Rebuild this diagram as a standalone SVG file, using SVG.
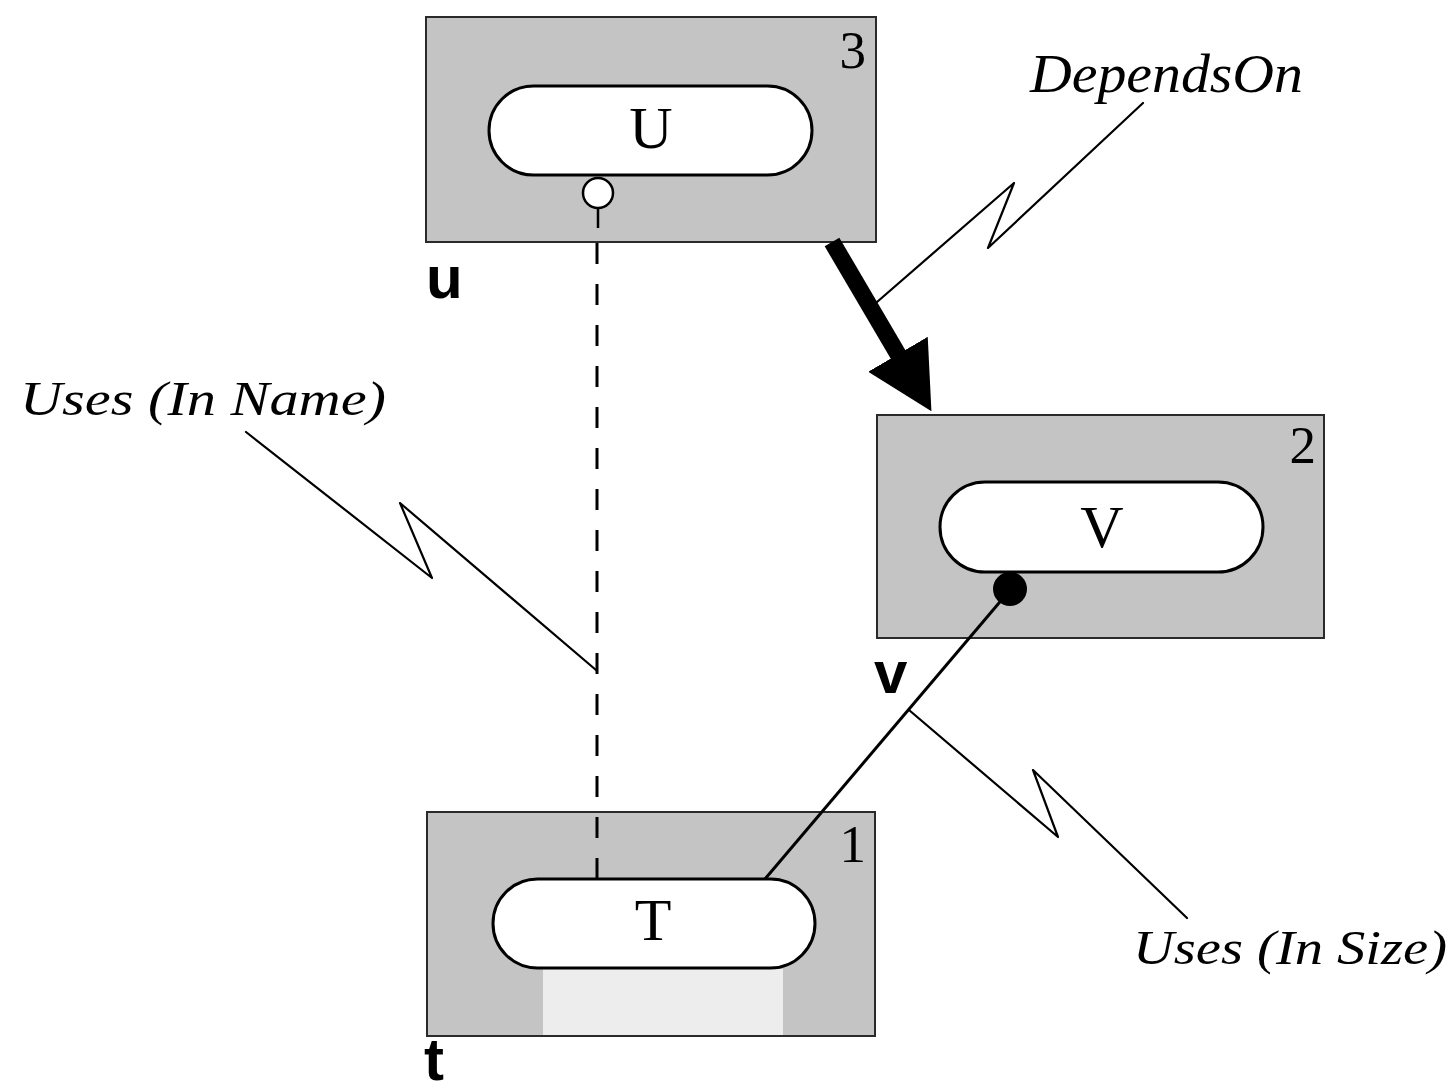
<svg xmlns="http://www.w3.org/2000/svg" width="1456" height="1091" viewBox="0 0 1456 1091">
  <style>
    .box { fill: #c4c4c4; stroke: #2a2a2a; stroke-width: 2; }
    .pill { fill: #ffffff; stroke: #000000; stroke-width: 3; }
    .pilltxt { font-family: "Liberation Serif", "Times New Roman", serif; font-size: 60px; fill: #000; text-anchor: middle; }
    .num { font-family: "Liberation Serif", "Times New Roman", serif; font-size: 53px; fill: #000; text-anchor: end; }
    .var { font-family: "Liberation Sans", Arial, sans-serif; font-weight: bold; font-size: 60px; fill: #000; }
    .lbl { font-family: "Liberation Serif", "Times New Roman", serif; font-style: italic; font-size: 48px; fill: #000; }
    .callout { fill: none; stroke: #000; stroke-width: 2.2; stroke-linejoin: round; stroke-linecap: round; }
  </style>
  <defs>
    <marker id="bigHead" markerUnits="userSpaceOnUse" viewBox="0 0 66 69" markerWidth="66" markerHeight="69" refX="2" refY="34.5" orient="auto">
      <path d="M0,0 L66,34.5 L0,69 Z" fill="#000"/>
    </marker>
  </defs>
  <rect width="1456" height="1091" fill="#ffffff"/>

  <g id="node-u">
    <rect class="box" x="426" y="17" width="450" height="225"/>
    <rect class="pill" x="489" y="86" width="323" height="89" rx="44.5" ry="44.5"/>
    <text class="pilltxt" x="651" y="148">U</text>
    <text class="num" x="866" y="68">3</text>
    <text class="var" x="426" y="298">u</text>
  </g>

  <g id="node-v">
    <rect class="box" x="877" y="415" width="447" height="223"/>
    <rect class="pill" x="940" y="482" width="323" height="90" rx="45" ry="45"/>
    <text class="pilltxt" x="1102" y="547">V</text>
    <text class="num" x="1316" y="463">2</text>
    <text class="var" x="874" y="693">v</text>
  </g>

  <g id="node-t">
    <rect class="box" x="427" y="812" width="448" height="224"/>
    <rect x="543" y="969" width="240" height="66" fill="#ededed"/>
    <rect class="pill" x="493" y="879" width="322" height="89" rx="44.5" ry="44.5"/>
    <text class="pilltxt" x="653" y="940">T</text>
    <text class="num" x="866" y="862">1</text>
    <text class="var" x="424" y="1080">t</text>
  </g>

  <g id="connectors">
    <circle cx="598" cy="193" r="15" fill="#ffffff" stroke="#000" stroke-width="2.5"/>
    <line x1="598" y1="208" x2="598" y2="228" stroke="#000" stroke-width="2.5"/>
    <line x1="597" y1="243" x2="597" y2="879" stroke="#000" stroke-width="3" stroke-dasharray="21 20"/>
    <line x1="1010" y1="590" x2="765" y2="879" stroke="#000" stroke-width="3"/>
    <circle cx="1010" cy="589" r="17" fill="#000"/>
    <line x1="832" y1="242" x2="899" y2="356" stroke="#000" stroke-width="17" marker-end="url(#bigHead)"/>
  </g>

  <g id="labels">
    <path class="callout" d="M877,302 L1014,183 L988,248 L1143,103"/>
    <text class="lbl" x="1030" y="92" textLength="273" lengthAdjust="spacingAndGlyphs" style="font-size:55px">DependsOn</text>
    <path class="callout" d="M246,432 L432,578 L400,503 L596,670"/>
    <text class="lbl" x="20" y="415" textLength="366" lengthAdjust="spacingAndGlyphs">Uses (In Name)</text>
    <path class="callout" d="M909,710 L1058,837 L1033,770 L1187,918"/>
    <text class="lbl" x="1133" y="964" textLength="314" lengthAdjust="spacingAndGlyphs">Uses (In Size)</text>
  </g>
</svg>
